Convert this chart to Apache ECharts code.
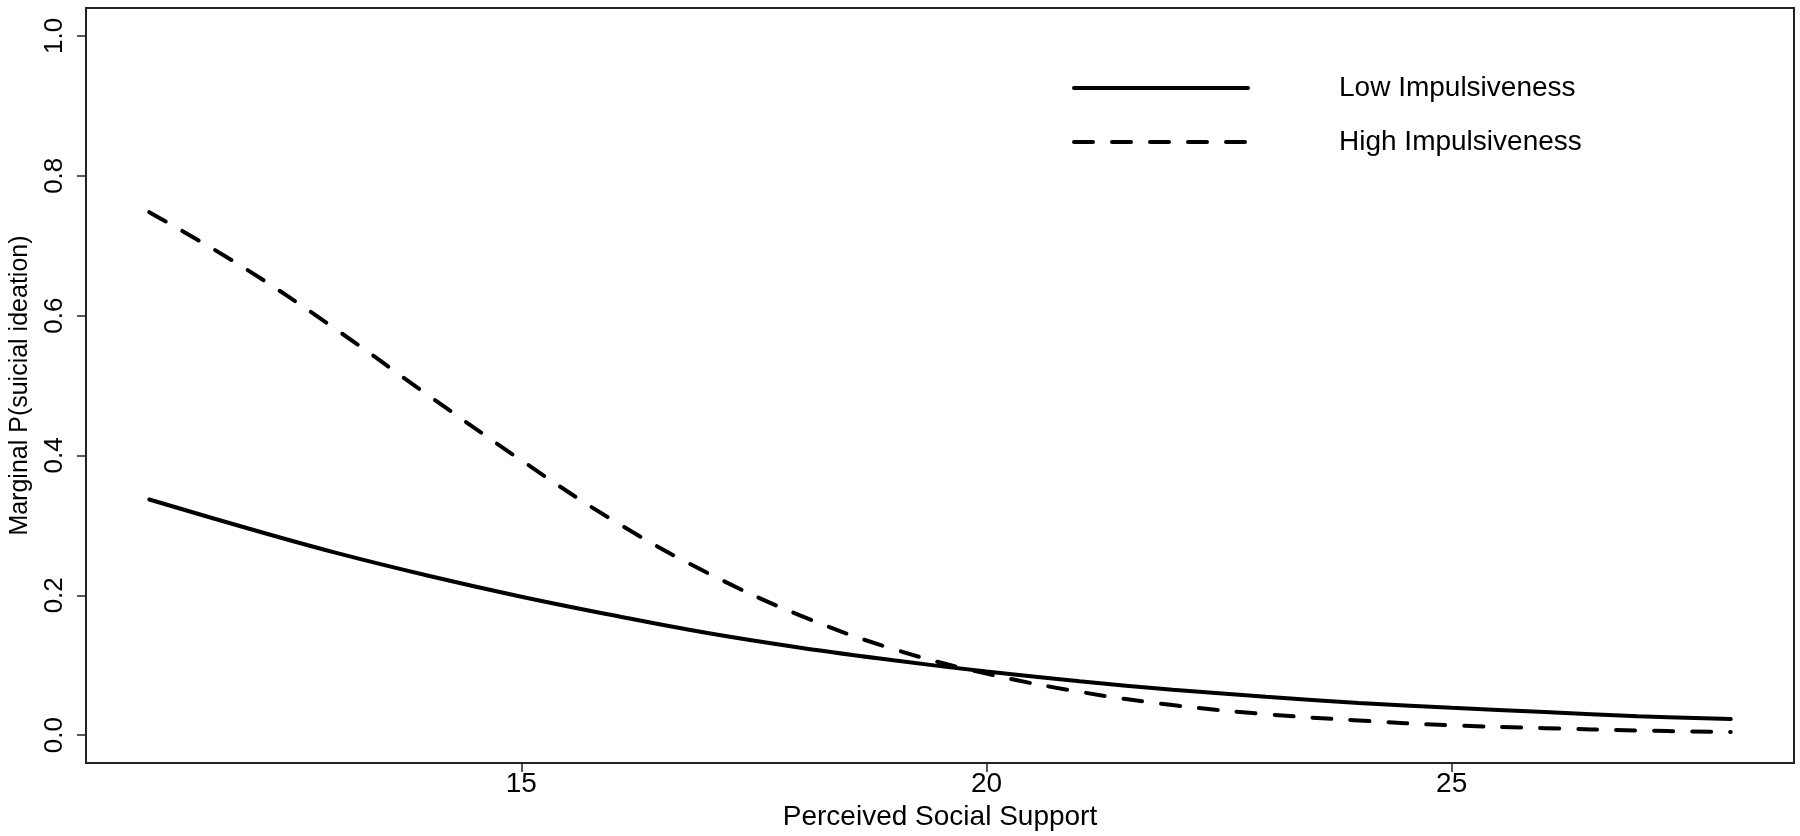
<!DOCTYPE html>
<html>
<head>
<meta charset="utf-8">
<script src="https://cdn.jsdelivr.net/npm/echarts@6/dist/echarts.min.js"></script>
<style>
html,body{margin:0;padding:0;background:#fff;}
#chart{width:1800px;height:836px;}
</style>
</head>
<body>
<div id="chart"></div>
<script>
// Perceived social support (x)
const support = [11,12,13,14,15,16,17,18,19,20,21,22,23,24,25,26,27,28];
// Marginal P(suicidal ideation), low impulsiveness (solid)
const lowImp = [0.337,0.298,0.261,0.228,0.198,0.171,0.146,0.125,0.107,0.091,0.077,0.065,0.055,0.046,0.039,0.033,0.027,0.023];
// Marginal P(suicidal ideation), high impulsiveness (dashed)
const highImp = [0.748,0.670,0.581,0.486,0.393,0.306,0.232,0.171,0.123,0.088,0.062,0.043,0.030,0.021,0.014,0.010,0.0066,0.0046];
const xTicks = [15,20,25];
const yTicks = [0,0.2,0.4,0.6,0.8,1.0];
const seriesNames = ['Low Impulsiveness','High Impulsiveness'];

const FONT = '"Liberation Sans", Arial, Helvetica, sans-serif';
const chart = echarts.init(document.getElementById('chart'), null, {renderer:'canvas'});
chart.setOption({
  animation:false,
  backgroundColor:'#ffffff',
  grid:{left:86,right:6,top:8,bottom:68,show:true,borderColor:'#222',borderWidth:2,backgroundColor:'transparent'},
  legend:{
    orient:'vertical',left:1067,top:69,
    itemWidth:174,itemHeight:28,itemGap:26,
    data:seriesNames,
    itemStyle:{color:'transparent',borderWidth:0,opacity:0},
    lineStyle:{width:4,cap:'round'},
    textStyle:{fontFamily:FONT,fontSize:28,color:'#000',padding:[0,0,0,86]}
  },
  xAxis:{
    type:'value',min:10.32,max:28.68,
    name:'Perceived Social Support',nameLocation:'middle',nameGap:39,
    nameTextStyle:{fontFamily:FONT,fontSize:28,color:'#000'},
    axisLine:{show:true,onZero:false,lineStyle:{color:'#222',width:2}},
    axisTick:{show:true,inside:false,length:9,lineStyle:{color:'#222',width:1.5},customValues:xTicks},
    axisLabel:{fontFamily:FONT,fontSize:28,color:'#000',margin:7,customValues:xTicks,formatter:v=>String(v)},
    splitLine:{show:false}
  },
  yAxis:{
    type:'value',min:-0.04,max:1.04,
    name:'Marginal P(suicial ideation)',nameLocation:'middle',nameGap:53,nameRotate:90,
    nameTextStyle:{fontFamily:FONT,fontSize:25,color:'#000'},
    axisLine:{show:true,onZero:false,lineStyle:{color:'#222',width:2}},
    axisTick:{show:true,inside:false,length:9,lineStyle:{color:'#222',width:1.5},customValues:yTicks},
    axisLabel:{fontFamily:FONT,fontSize:26,color:'#000',margin:18,rotate:90,customValues:yTicks,formatter:v=>v.toFixed(1)},
    splitLine:{show:false}
  },
  series:[
    {name:seriesNames[0],type:'line',data:support.map((x,i)=>[x,lowImp[i]]),
     symbol:'none',smooth:0.4,
     lineStyle:{color:'#000',width:4,type:'solid',cap:'round'},itemStyle:{color:'#000'}},
    {name:seriesNames[1],type:'line',data:support.map((x,i)=>[x,highImp[i]]),
     symbol:'none',smooth:0.4,
     lineStyle:{color:'#000',width:4,type:[19,19],cap:'round'},itemStyle:{color:'#000'}}
  ]
});
</script>
</body>
</html>
